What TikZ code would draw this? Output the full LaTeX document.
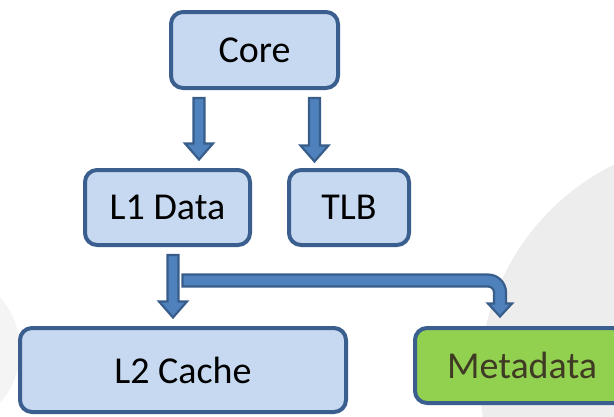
\documentclass[tikz,border=0pt]{standalone}
\usepackage{fontspec}
\setmainfont{Carlito}
\usetikzlibrary{calc}
\definecolor{boxline}{HTML}{3A5F8F}
\definecolor{boxfill}{HTML}{C6D9F1}
\definecolor{metafill}{HTML}{92D050}
\definecolor{metatext}{HTML}{3F3A23}
\definecolor{arrowfill}{HTML}{4F81BD}
\definecolor{arrowline}{HTML}{385D8A}
\definecolor{discgray}{HTML}{EDEDED}
\definecolor{discpale}{HTML}{F4F4F4}

% straight block arrow pointing down: #1 = top of the shaft, #2 = tip
\newcommand\downblock[2]{%
  \filldraw[blockarrow] let \p1=(#1), \p2=(#2) in
    (\x1-5.5pt,\y1) -- (\x1-5.5pt,\y2+16pt) -- (\x1-14pt,\y2+16pt) -- (\x1,\y2)
    -- (\x1+14pt,\y2+16pt) -- (\x1+5.5pt,\y2+16pt) -- (\x1+5.5pt,\y1) -- cycle;}

% block arrow going right, then bending down: #1 = left end, #2 = tip
\newcommand\bentblock[2]{%
  \filldraw[blockarrow] let \p1=(#1), \p2=(#2) in
    (\x1,\y1+6pt) -- (\x2-12pt,\y1+6pt) arc[start angle=90,end angle=0,radius=18pt]
    -- (\x2+6pt,\y2+13pt) -- (\x2+12pt,\y2+13pt) -- (\x2,\y2) -- (\x2-12pt,\y2+13pt)
    -- (\x2-6pt,\y2+13pt) -- (\x2-6pt,\y1-12pt) arc[start angle=0,end angle=90,radius=6pt]
    -- (\x1,\y1-6pt) -- cycle;}

\begin{document}
\begin{tikzpicture}[x=1pt,y=-1pt,
  unit/.style={draw=boxline, line width=4pt, fill=boxfill, rounded corners=12pt,
    font=\fontsize{38}{42}\selectfont, text=black, inner sep=0pt},
  metaunit/.style={unit, fill=metafill, text=metatext},
  blockarrow/.style={fill=arrowfill, draw=arrowline, line width=2.2pt, line join=miter}]
\useasboundingbox (0,0) rectangle (614,416);
\clip (0,0) rectangle (614,416);

% faint background discs
\fill[discgray] (720,380) circle[radius=240pt];
\fill[discpale] (-60,350) circle[radius=80pt];

% units
\node[unit, minimum width=167pt, minimum height=76pt] (core) at (254.5,50) {Core};
\node[unit, minimum width=165pt, minimum height=75pt] (l1) at (167.5,207.5) {L1 Data};
\node[unit, minimum width=120pt, minimum height=75pt] (tlb) at (349,207.5) {TLB};
\node[unit, minimum width=326pt, minimum height=84pt] (l2) at (183,370) {L2 Cache};
\node[metaunit, minimum width=214pt, minimum height=75pt] (meta) at (522,365.5) {Metadata};

% arrow end points
\coordinate (c1) at ($(core.south)+(-55.5,8)$);
\coordinate (c1t) at ($(l1.north)+(31.5,-8.5)$);
\coordinate (c2) at ($(core.south)+(60,8)$);
\coordinate (c2t) at ($(tlb.north)+(-34.5,-6.5)$);
\coordinate (d1) at ($(l1.south)+(5.5,8)$);
\coordinate (d1t) at ($(l2.north)+(-10,-8.5)$);
\coordinate (m1) at ($(l1.south)+(15,33.5)$);
\coordinate (m1t) at ($(meta.north)+(-22,-9.5)$);

% connectors
\downblock{c1}{c1t}
\downblock{c2}{c2t}
\downblock{d1}{d1t}
\bentblock{m1}{m1t}
\end{tikzpicture}
\end{document}
